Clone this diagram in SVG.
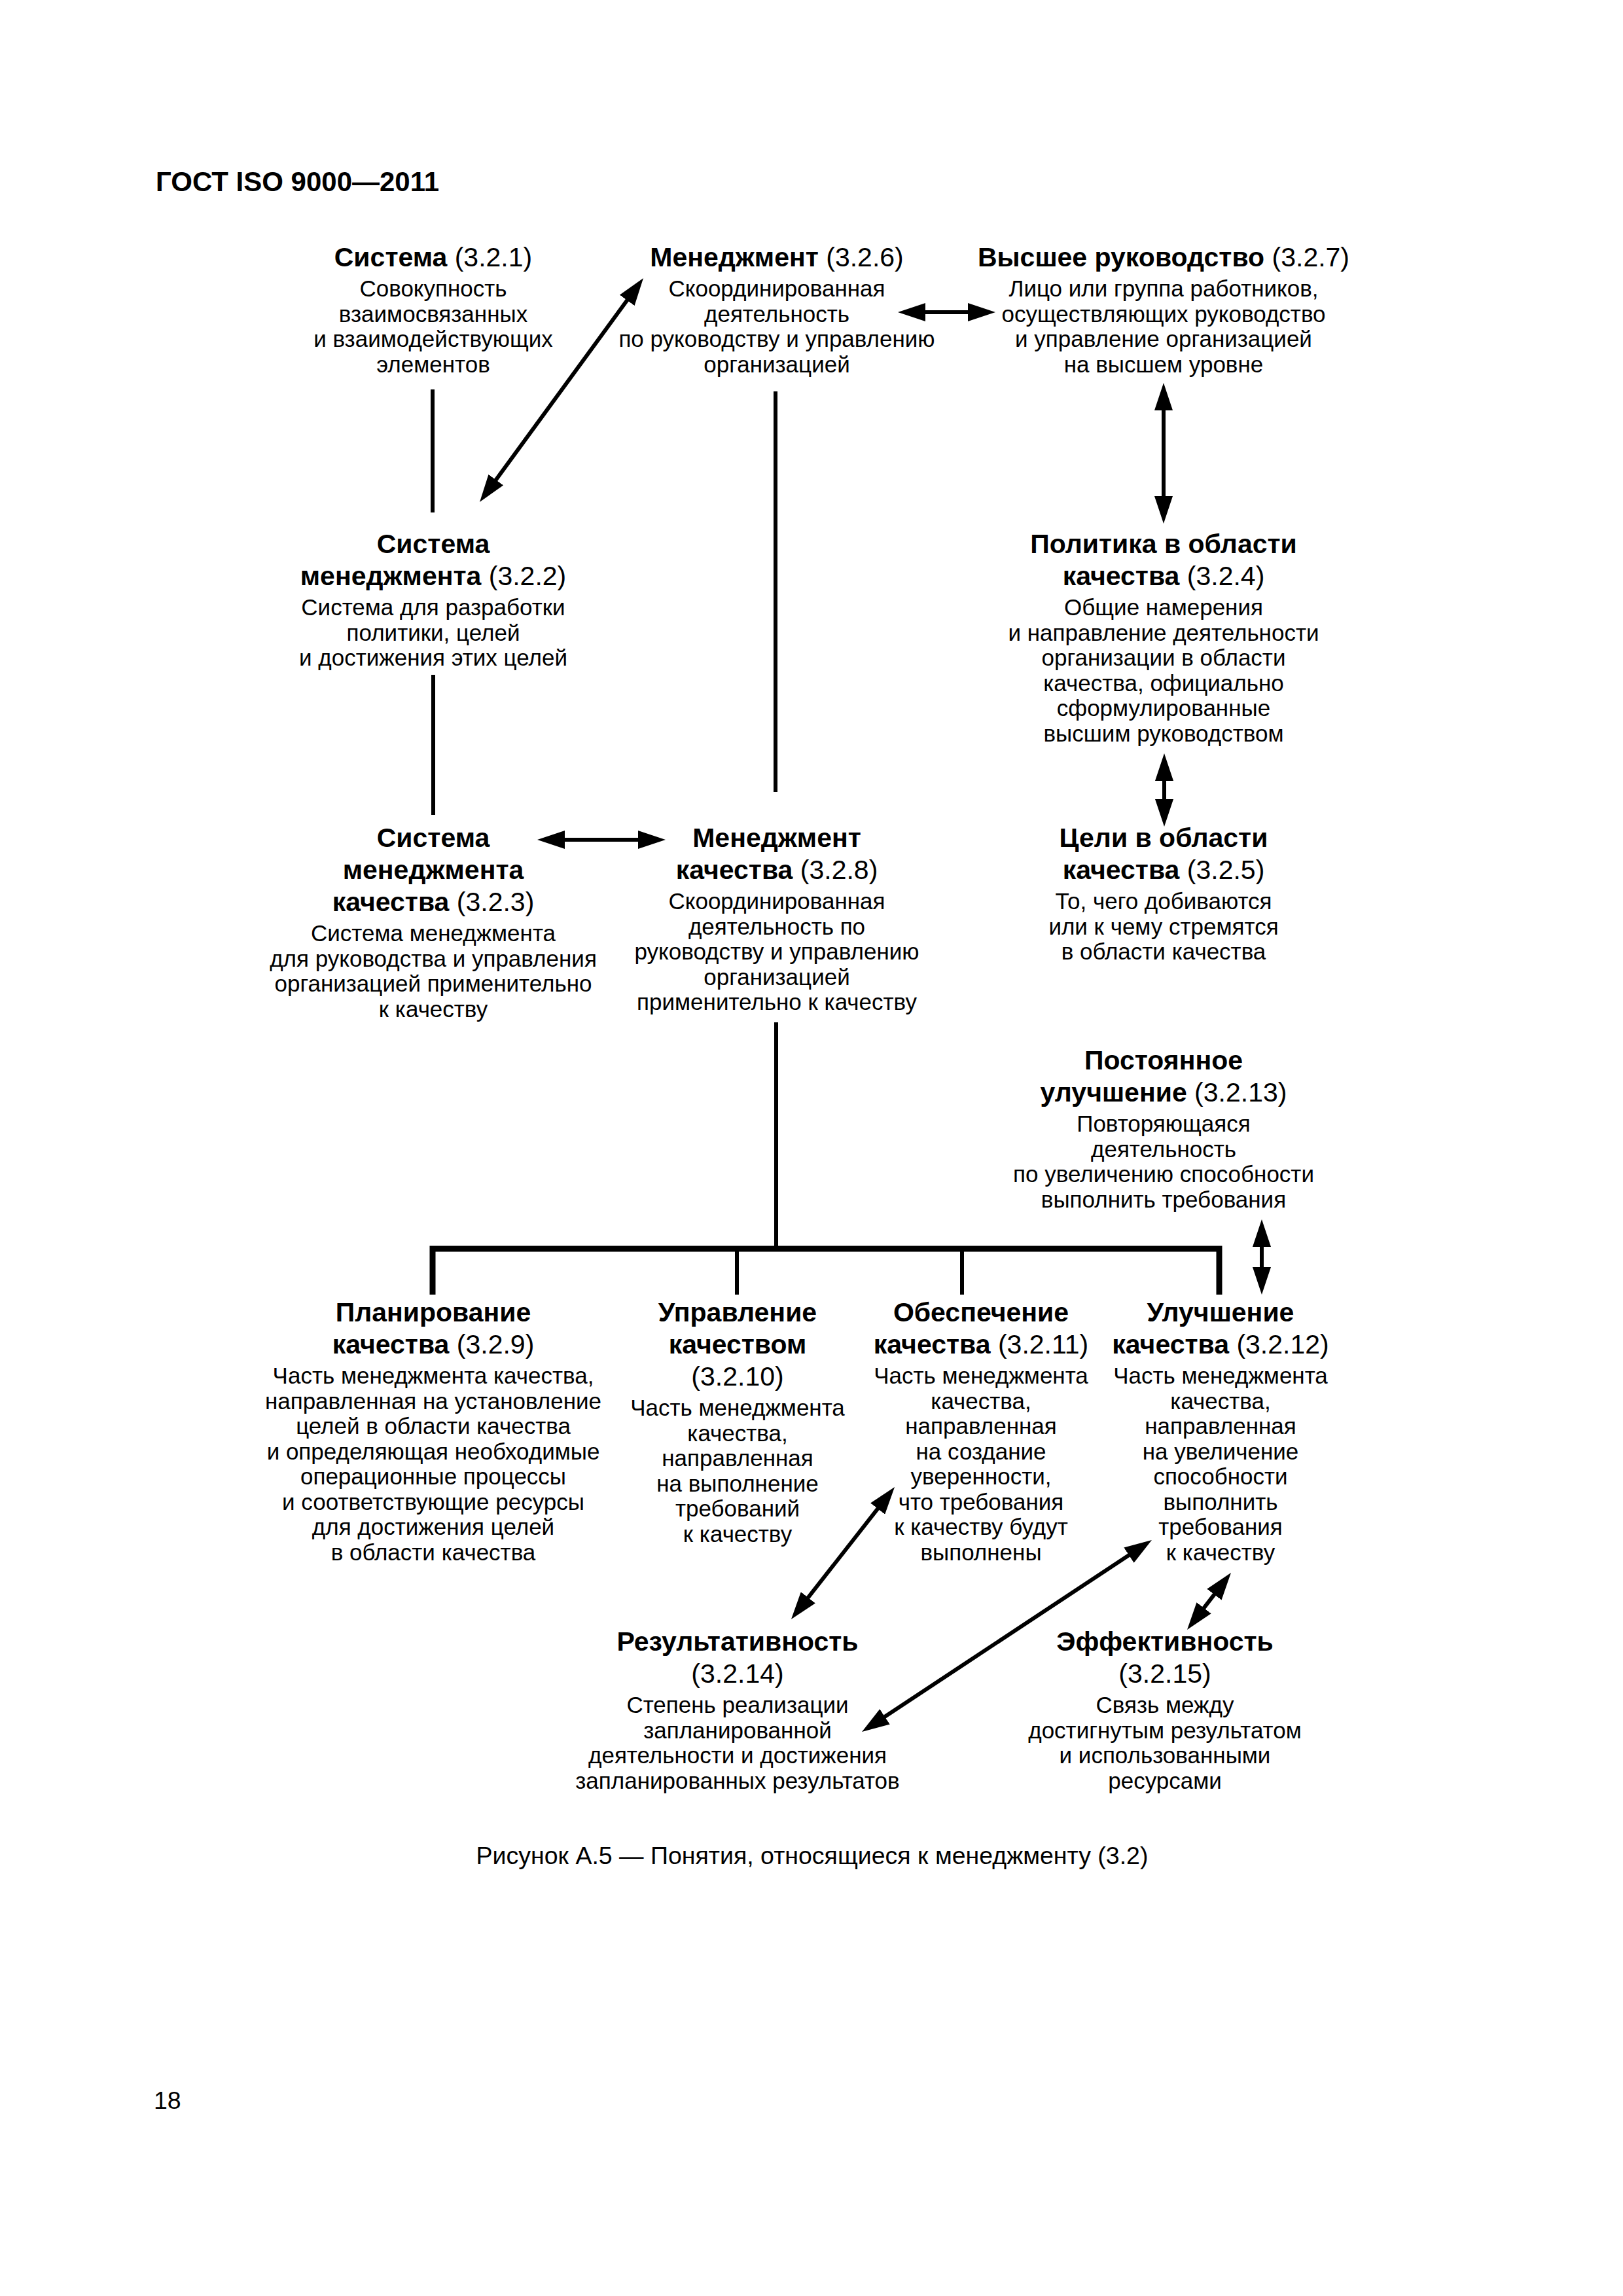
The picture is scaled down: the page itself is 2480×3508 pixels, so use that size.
<svg xmlns="http://www.w3.org/2000/svg" width="2480" height="3508" viewBox="0 0 2480 3508">
<style>
text{font-family:"Liberation Sans",Arial,sans-serif;fill:#000}
.t{font-size:41px;font-weight:bold;text-anchor:middle}
.t .n{font-weight:normal}
.b{font-size:35px;text-anchor:middle}
.hdr{font-size:42px;font-weight:bold}
.cap{font-size:37.5px}
.ln{stroke:#000;stroke-width:6;fill:none}
.bus{stroke:#000;stroke-width:9;fill:none;stroke-linejoin:miter}
.ar{stroke:#000;stroke-width:6;fill:none;marker-start:url(#ah);marker-end:url(#ah)}
</style>
<defs>
<marker id="ah" viewBox="0 0 42 28" refX="22" refY="14" markerWidth="42" markerHeight="28" markerUnits="userSpaceOnUse" orient="auto-start-reverse">
<path d="M0,0 L42,14 L0,28 z" fill="#000"/>
</marker>
</defs>
<rect width="2480" height="3508" fill="#fff"/>
<text class="hdr" x="238" y="292">ГОСТ ISO 9000—2011</text>

<g id="connectors">
<line class="ln" x1="661" y1="595" x2="661" y2="783"/>
<line class="ln" x1="1185" y1="598" x2="1185" y2="1210"/>
<line class="ln" x1="662" y1="1031" x2="662" y2="1245"/>
<line class="ln" x1="1186" y1="1562" x2="1186" y2="1908"/>
<path class="bus" d="M661,1978 V1908 H1863 V1978"/>
<line class="ln" x1="1126" y1="1908" x2="1126" y2="1978"/>
<line class="ln" x1="1470" y1="1908" x2="1470" y2="1978"/>
<line class="ar" x1="971.2" y1="441.1" x2="744.8" y2="750.9"/>
<line class="ar" x1="1392" y1="477" x2="1501" y2="477"/>
<line class="ar" x1="1778" y1="605" x2="1778" y2="780"/>
<line class="ar" x1="1779" y1="1171" x2="1779" y2="1243"/>
<line class="ar" x1="841" y1="1283" x2="997" y2="1283"/>
<line class="ar" x1="1928" y1="1883" x2="1928" y2="1958"/>
<line class="ar" x1="1354.7" y1="2287.8" x2="1221.3" y2="2458.2"/>
<line class="ar" x1="1743.3" y1="2364" x2="1333.7" y2="2635"/>
<line class="ar" x1="1868.8" y1="2418.8" x2="1826.2" y2="2474.2"/>
</g>

<g id="n321">
<text class="t" x="662" y="407">Система <tspan class="n">(3.2.1)</tspan></text>
<text class="b" x="662" y="453">Совокупность</text>
<text class="b" x="662" y="491.5">взаимосвязанных</text>
<text class="b" x="662" y="530">и взаимодействующих</text>
<text class="b" x="662" y="568.5">элементов</text>
</g>

<g id="n326">
<text class="t" x="1187" y="407">Менеджмент <tspan class="n">(3.2.6)</tspan></text>
<text class="b" x="1187" y="453">Скоординированная</text>
<text class="b" x="1187" y="491.5">деятельность</text>
<text class="b" x="1187" y="530">по руководству и управлению</text>
<text class="b" x="1187" y="568.5">организацией</text>
</g>

<g id="n327">
<text class="t" x="1778" y="407">Высшее руководство <tspan class="n">(3.2.7)</tspan></text>
<text class="b" x="1778" y="453">Лицо или группа работников,</text>
<text class="b" x="1778" y="491.5">осуществляющих руководство</text>
<text class="b" x="1778" y="530">и управление организацией</text>
<text class="b" x="1778" y="568.5">на высшем уровне</text>
</g>

<g id="n322">
<text class="t" x="662" y="845">Система</text>
<text class="t" x="662" y="894">менеджмента <tspan class="n">(3.2.2)</tspan></text>
<text class="b" x="662" y="940">Система для разработки</text>
<text class="b" x="662" y="978.5">политики, целей</text>
<text class="b" x="662" y="1017">и достижения этих целей</text>
</g>

<g id="n324">
<text class="t" x="1778" y="845">Политика в области</text>
<text class="t" x="1778" y="894">качества <tspan class="n">(3.2.4)</tspan></text>
<text class="b" x="1778" y="940">Общие намерения</text>
<text class="b" x="1778" y="978.5">и направление деятельности</text>
<text class="b" x="1778" y="1017">организации в области</text>
<text class="b" x="1778" y="1055.5">качества, официально</text>
<text class="b" x="1778" y="1094">сформулированные</text>
<text class="b" x="1778" y="1132.5">высшим руководством</text>
</g>

<g id="n323">
<text class="t" x="662" y="1294">Система</text>
<text class="t" x="662" y="1343">менеджмента</text>
<text class="t" x="662" y="1392">качества <tspan class="n">(3.2.3)</tspan></text>
<text class="b" x="662" y="1438">Система менеджмента</text>
<text class="b" x="662" y="1476.5">для руководства и управления</text>
<text class="b" x="662" y="1515">организацией применительно</text>
<text class="b" x="662" y="1553.5">к качеству</text>
</g>

<g id="n328">
<text class="t" x="1187" y="1294">Менеджмент</text>
<text class="t" x="1187" y="1343">качества <tspan class="n">(3.2.8)</tspan></text>
<text class="b" x="1187" y="1389">Скоординированная</text>
<text class="b" x="1187" y="1427.5">деятельность по</text>
<text class="b" x="1187" y="1466">руководству и управлению</text>
<text class="b" x="1187" y="1504.5">организацией</text>
<text class="b" x="1187" y="1543">применительно к качеству</text>
</g>

<g id="n325">
<text class="t" x="1778" y="1294">Цели в области</text>
<text class="t" x="1778" y="1343">качества <tspan class="n">(3.2.5)</tspan></text>
<text class="b" x="1778" y="1389">То, чего добиваются</text>
<text class="b" x="1778" y="1427.5">или к чему стремятся</text>
<text class="b" x="1778" y="1466">в области качества</text>
</g>

<g id="n3213">
<text class="t" x="1778" y="1634">Постоянное</text>
<text class="t" x="1778" y="1683">улучшение <tspan class="n">(3.2.13)</tspan></text>
<text class="b" x="1778" y="1729">Повторяющаяся</text>
<text class="b" x="1778" y="1767.5">деятельность</text>
<text class="b" x="1778" y="1806">по увеличению способности</text>
<text class="b" x="1778" y="1844.5">выполнить требования</text>
</g>

<g id="n329">
<text class="t" x="662" y="2019">Планирование</text>
<text class="t" x="662" y="2068">качества <tspan class="n">(3.2.9)</tspan></text>
<text class="b" x="662" y="2114">Часть менеджмента качества,</text>
<text class="b" x="662" y="2152.5">направленная на установление</text>
<text class="b" x="662" y="2191">целей в области качества</text>
<text class="b" x="662" y="2229.5">и определяющая необходимые</text>
<text class="b" x="662" y="2268">операционные процессы</text>
<text class="b" x="662" y="2306.5">и соответствующие ресурсы</text>
<text class="b" x="662" y="2345">для достижения целей</text>
<text class="b" x="662" y="2383.5">в области качества</text>
</g>

<g id="n3210">
<text class="t" x="1127" y="2019">Управление</text>
<text class="t" x="1127" y="2068">качеством</text>
<text class="t" x="1127" y="2117"><tspan class="n">(3.2.10)</tspan></text>
<text class="b" x="1127" y="2163">Часть менеджмента</text>
<text class="b" x="1127" y="2201.5">качества,</text>
<text class="b" x="1127" y="2240">направленная</text>
<text class="b" x="1127" y="2278.5">на выполнение</text>
<text class="b" x="1127" y="2317">требований</text>
<text class="b" x="1127" y="2355.5">к качеству</text>
</g>

<g id="n3211">
<text class="t" x="1499" y="2019">Обеспечение</text>
<text class="t" x="1499" y="2068">качества <tspan class="n">(3.2.11)</tspan></text>
<text class="b" x="1499" y="2114">Часть менеджмента</text>
<text class="b" x="1499" y="2152.5">качества,</text>
<text class="b" x="1499" y="2191">направленная</text>
<text class="b" x="1499" y="2229.5">на создание</text>
<text class="b" x="1499" y="2268">уверенности,</text>
<text class="b" x="1499" y="2306.5">что требования</text>
<text class="b" x="1499" y="2345">к качеству будут</text>
<text class="b" x="1499" y="2383.5">выполнены</text>
</g>

<g id="n3212">
<text class="t" x="1865" y="2019">Улучшение</text>
<text class="t" x="1865" y="2068">качества <tspan class="n">(3.2.12)</tspan></text>
<text class="b" x="1865" y="2114">Часть менеджмента</text>
<text class="b" x="1865" y="2152.5">качества,</text>
<text class="b" x="1865" y="2191">направленная</text>
<text class="b" x="1865" y="2229.5">на увеличение</text>
<text class="b" x="1865" y="2268">способности</text>
<text class="b" x="1865" y="2306.5">выполнить</text>
<text class="b" x="1865" y="2345">требования</text>
<text class="b" x="1865" y="2383.5">к качеству</text>
</g>

<g id="n3214">
<text class="t" x="1127" y="2522">Результативность</text>
<text class="t" x="1127" y="2571"><tspan class="n">(3.2.14)</tspan></text>
<text class="b" x="1127" y="2617">Степень реализации</text>
<text class="b" x="1127" y="2655.5">запланированной</text>
<text class="b" x="1127" y="2694">деятельности и достижения</text>
<text class="b" x="1127" y="2732.5">запланированных результатов</text>
</g>

<g id="n3215">
<text class="t" x="1780" y="2522">Эффективность</text>
<text class="t" x="1780" y="2571"><tspan class="n">(3.2.15)</tspan></text>
<text class="b" x="1780" y="2617">Связь между</text>
<text class="b" x="1780" y="2655.5">достигнутым результатом</text>
<text class="b" x="1780" y="2694">и использованными</text>
<text class="b" x="1780" y="2732.5">ресурсами</text>
</g>

<text class="cap" x="1241" y="2848" text-anchor="middle">Рисунок А.5 — Понятия, относящиеся к менеджменту (3.2)</text>
<text class="cap" x="235" y="3222">18</text>
</svg>
